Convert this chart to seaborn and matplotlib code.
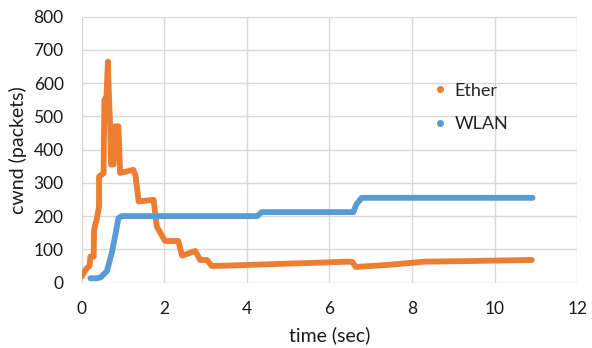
import matplotlib
matplotlib.use('Agg')
import matplotlib.pyplot as plt
from matplotlib.lines import Line2D
import seaborn as sns
import pandas as pd

# Ether trace (time in sec, cwnd in packets)
ether_t = [0.00, 0.12, 0.19, 0.21, 0.29, 0.30, 0.37, 0.42, 0.42, 0.53,
           0.55, 0.60, 0.635, 0.66, 0.69, 0.71, 0.77, 0.80, 0.89, 0.93,
           1.25, 1.30, 1.38, 1.74, 1.82, 2.02, 2.34, 2.43, 2.75, 2.87,
           3.03, 3.15, 3.5, 4.5, 5.5, 6.45, 6.55, 6.64, 7.5, 8.3, 9.5, 10.9]
ether_cwnd = [18, 43, 50, 78, 78, 158, 194, 229, 319, 329,
              549, 560, 665, 560, 470, 355, 355, 470, 470, 330,
              339, 324, 244, 249, 168, 125, 125, 81, 95, 68,
              68, 50, 51, 55, 59, 63, 62, 47, 54, 63, 65, 68]

# WLAN trace
wlan_t = [0.21, 0.37, 0.45, 0.61, 0.73, 0.81, 0.89, 0.97, 4.25, 4.36,
          6.58, 6.65, 6.78, 10.92]
wlan_cwnd = [13, 13, 15, 34, 90, 140, 194, 200, 200, 212,
             212, 235, 255, 255]

series_names = ['Ether', 'WLAN']
colors = {'Ether': '#ED7D31', 'WLAN': '#5B9BD5'}

df = pd.concat([
    pd.DataFrame({'t': ether_t, 'cwnd': ether_cwnd, 'series': 'Ether'}),
    pd.DataFrame({'t': wlan_t, 'cwnd': wlan_cwnd, 'series': 'WLAN'}),
])

sns.set_style('white')
plt.rcParams['font.family'] = ['Lato', 'DejaVu Sans']

fig = plt.figure(figsize=(5.92, 3.48), dpi=100)
ax = fig.add_axes([0.138, 0.188, 0.837, 0.764])

sns.lineplot(data=df, x='t', y='cwnd', hue='series', palette=colors,
             hue_order=series_names, sort=False, estimator=None,
             linewidth=4.2, legend=False, ax=ax,
             solid_capstyle='round', solid_joinstyle='round')

ax.set_xlim(0, 12)
ax.set_ylim(0, 800)
ax.set_xticks(range(0, 13, 2))
ax.set_yticks(range(0, 801, 100))
ax.grid(True, color='#D9D9D9', linewidth=1)
ax.set_axisbelow(True)
for sp in ax.spines.values():
    sp.set_visible(False)
ax.tick_params(length=0, labelsize=12.5, colors='#1a1a1a')
ax.tick_params(axis='y', pad=13)
ax.tick_params(axis='x', pad=13)
ax.set_xlabel('time (sec)', fontsize=14, color='#1a1a1a', labelpad=7)
ax.set_ylabel('cwnd (packets)', fontsize=14, color='#1a1a1a', labelpad=5)

handles = [Line2D([], [], marker='o', linestyle='', markersize=4,
                  color=colors[n]) for n in series_names]
ax.legend(handles, series_names, loc='center left',
          bbox_to_anchor=(0.693, 0.659), frameon=False, fontsize=13,
          labelspacing=0.95, handlelength=0.8, handletextpad=0.45,
          borderaxespad=0)

fig.savefig('out.png', dpi=100)
